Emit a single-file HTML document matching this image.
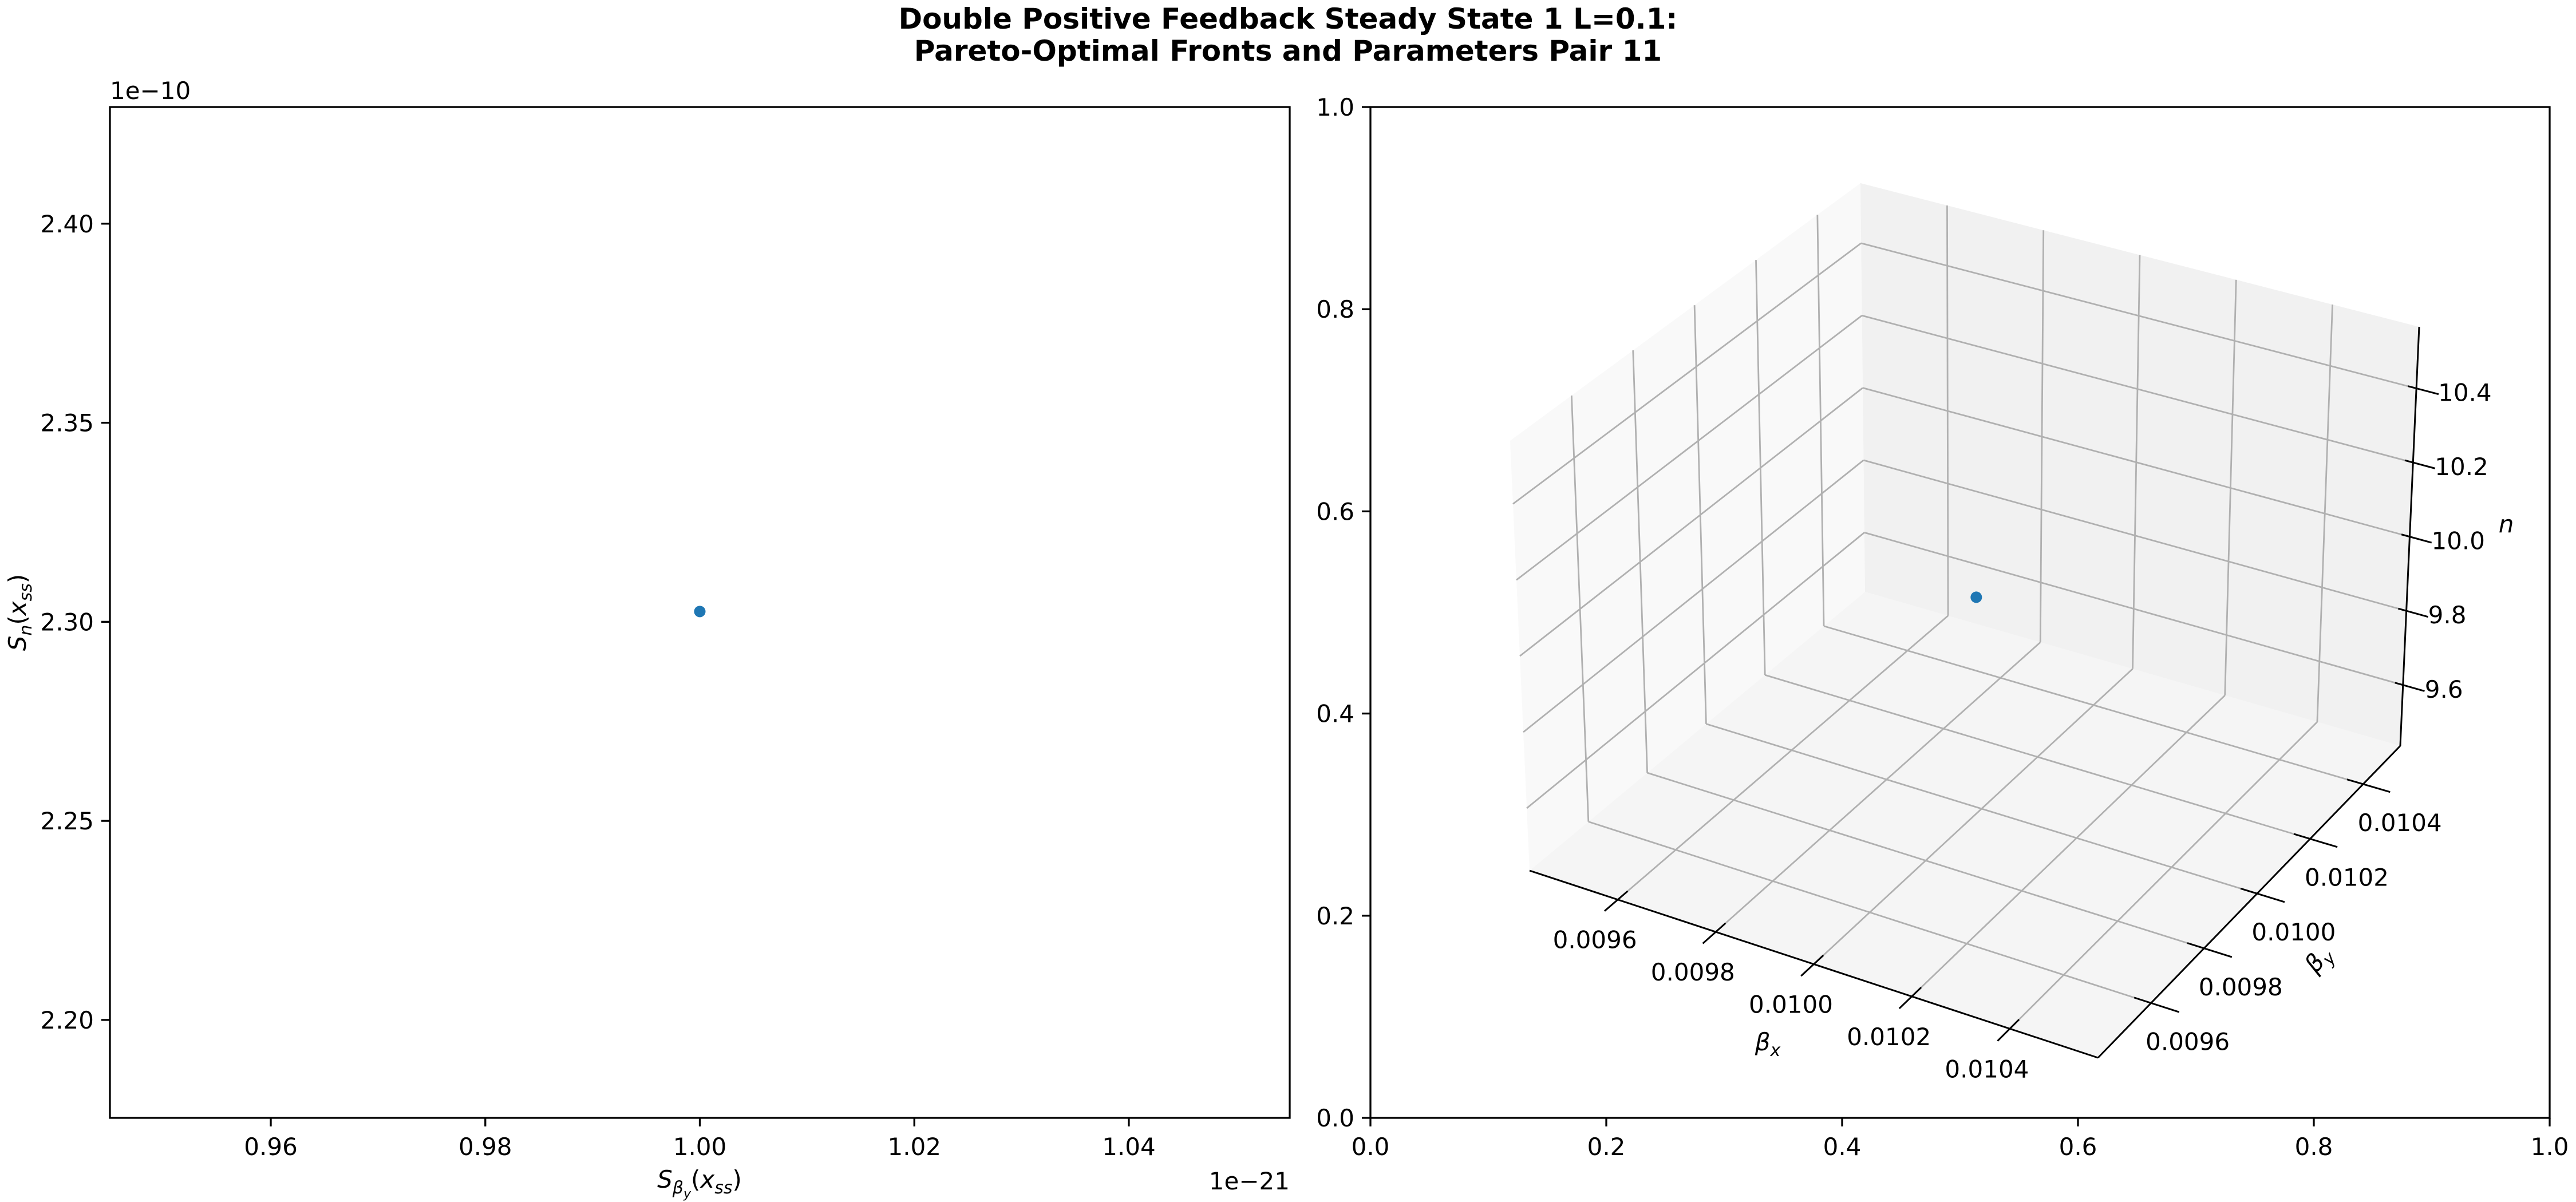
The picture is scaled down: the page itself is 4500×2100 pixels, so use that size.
<!DOCTYPE html>
<html><head><meta charset="utf-8"><style>
html,body{margin:0;padding:0;background:#fff}
svg{display:block;font-family:"DejaVu Sans","Liberation Sans",sans-serif}
</style></head><body>
<svg id="fig" width="4500" height="2100" viewBox="0 0 4500 2100" xmlns="http://www.w3.org/2000/svg">
<rect width="4500" height="2100" fill="#fff"/>
<text x="2250" y="50" font-size="50" font-weight="bold" text-anchor="middle">Double Positive Feedback Steady State 1 L=0.1:</text>
<text x="2250" y="106" font-size="50" font-weight="bold" text-anchor="middle">Pareto-Optimal Fronts and Parameters Pair 11</text>
<g id="left"></g>
<g id="right"></g>
</svg>
<script>
// ---- left chart data ----
const frontX = [1.0];          // S_beta_y (x1e-21)
const frontY = [2.302585];     // S_n (x1e-10)
const leftXTicks = [0.96, 0.98, 1.00, 1.02, 1.04];
const leftYTicks = [2.20, 2.25, 2.30, 2.35, 2.40];
const leftXLim = [0.945, 1.055];
const leftYLim = [2.1754, 2.4293];
// ---- right chart data ----
const paramBx = [0.01];
const paramBy = [0.01];
const paramN = [10.0];
const bxTicks = [0.0096, 0.0098, 0.0100, 0.0102, 0.0104];
const byTicks = [0.0096, 0.0098, 0.0100, 0.0102, 0.0104];
const nTicks = [9.6, 9.8, 10.0, 10.2, 10.4];
const bxLim = [0.00942, 0.01058];
const byLim = [0.00940, 0.01054];
const nLim = [9.436, 10.566];
const frameTicks = [0.0, 0.2, 0.4, 0.6, 0.8, 1.0];

const NS = "http://www.w3.org/2000/svg";
function mk(parent, tag, attrs, text) {
  const e = document.createElementNS(NS, tag);
  for (const k in attrs) e.setAttribute(k, attrs[k]);
  if (text !== undefined) e.textContent = text;
  parent.appendChild(e);
  return e;
}
const L = document.getElementById('left');
const R = document.getElementById('right');

// ===== left panel =====
const AX = {l: 192, r: 2253, t: 187, b: 1953};
const sx = v => AX.l + (v - leftXLim[0]) / (leftXLim[1] - leftXLim[0]) * (AX.r - AX.l);
const sy = v => AX.b - (v - leftYLim[0]) / (leftYLim[1] - leftYLim[0]) * (AX.b - AX.t);
let fr = mk(L, 'rect', {x: AX.l, y: AX.t, width: AX.r - AX.l, height: AX.b - AX.t, fill: 'none', stroke: '#000', 'stroke-width': 3.3});


leftXTicks.forEach(t => {
  const x = sx(t);
  let tk = mk(L, 'line', {x1: x, x2: x, y1: AX.b, y2: AX.b + 15, stroke: '#000', 'stroke-width': 3.3});
  
  
  let lb = mk(L, 'text', {x: x, y: AX.b + 65, 'font-size': 42, 'text-anchor': 'middle'}, t.toFixed(2));
  
  
});
leftYTicks.forEach(t => {
  const y = sy(t);
  let tk = mk(L, 'line', {x1: AX.l - 15, x2: AX.l, y1: y, y2: y, stroke: '#000', 'stroke-width': 3.3});
  
  
  let lb = mk(L, 'text', {x: AX.l - 28, y: y + 15, 'font-size': 42, 'text-anchor': 'end'}, t.toFixed(2));
  
  
});
let o1 = mk(L, 'text', {x: AX.l, y: AX.t - 14, 'font-size': 42}, '1e\u221210');


let o2 = mk(L, 'text', {x: AX.r, y: AX.b + 125, 'font-size': 42, 'text-anchor': 'end'}, '1e\u221221');


let xl = mk(L, 'text', {x: 1222, y: 2075, 'font-size': 42, 'text-anchor': 'middle'});


xl.innerHTML = '<tspan font-style="italic">S</tspan><tspan font-size="30" dy="10" font-style="italic">β</tspan><tspan font-size="22" dy="8" font-style="italic">y</tspan><tspan dy="-18">(</tspan><tspan font-style="italic">x</tspan><tspan font-size="30" dy="10" font-style="italic">ss</tspan><tspan dy="-10">)</tspan>';
let yl = mk(L, 'text', {x: 0, y: 0, 'font-size': 42, 'text-anchor': 'middle', transform: 'translate(45,1070) rotate(-90)'});


yl.innerHTML = '<tspan font-style="italic">S</tspan><tspan font-size="30" dy="10" font-style="italic">n</tspan><tspan dy="-10">(</tspan><tspan font-style="italic">x</tspan><tspan font-size="30" dy="10" font-style="italic">ss</tspan><tspan dy="-10">)</tspan>';
frontX.forEach((v, i) => {
  let c = mk(L, 'circle', {cx: sx(v), cy: sy(frontY[i]), r: 10, fill: '#1f77b4'});
  
  
});

// ===== right panel (2D frame) =====
const F2 = {l: 2394, r: 4454, t: 187, b: 1953};
let fr2 = mk(R, 'rect', {x: F2.l, y: F2.t, width: F2.r - F2.l, height: F2.b - F2.t, fill: 'none', stroke: '#000', 'stroke-width': 3.3});


frameTicks.forEach(t => {
  const x = F2.l + t * (F2.r - F2.l), y = F2.b - t * (F2.b - F2.t);
  let a = mk(R, 'line', {x1: x, x2: x, y1: F2.b, y2: F2.b + 15, stroke: '#000', 'stroke-width': 3.3});
  
  
  let b = mk(R, 'text', {x: x, y: F2.b + 65, 'font-size': 42, 'text-anchor': 'middle'}, t.toFixed(1));
  
  
  let c = mk(R, 'line', {x1: F2.l - 15, x2: F2.l, y1: y, y2: y, stroke: '#000', 'stroke-width': 3.3});
  
  
  let d = mk(R, 'text', {x: F2.l - 28, y: y + 15, 'font-size': 42, 'text-anchor': 'end'}, t.toFixed(1));
  
  
});

// ===== 3D projection via trilinear interpolation of box corners =====
const C = {
  b000: [2672, 1521], b100: [3665, 1848], b110: [4193, 1303], b010: [3258, 1034],
  t000: [2638, 770], t100: [3660, 1080], t110: [4226, 571], t010: [3250, 320]
};
function lerp(a, b, t) { return [a[0] + (b[0] - a[0]) * t, a[1] + (b[1] - a[1]) * t]; }
function P(u, v, w) {
  const bot = lerp(lerp(C.b000, C.b100, u), lerp(C.b010, C.b110, u), v);
  const top = lerp(lerp(C.t000, C.t100, u), lerp(C.t010, C.t110, u), v);
  return lerp(bot, top, w);
}
const nu = b => (b - bxLim[0]) / (bxLim[1] - bxLim[0]);
const nv = b => (b - byLim[0]) / (byLim[1] - byLim[0]);
const nw = n => (n - nLim[0]) / (nLim[1] - nLim[0]);
const poly = pts => pts.map(p => p[0].toFixed(1) + ',' + p[1].toFixed(1)).join(' ');
let pf = mk(R, 'polygon', {points: poly([P(0,0,0), P(1,0,0), P(1,1,0), P(0,1,0)]), fill: '#f5f5f5'});


let pl = mk(R, 'polygon', {points: poly([P(0,0,0), P(0,1,0), P(0,1,1), P(0,0,1)]), fill: '#f9f9f9'});


let pr = mk(R, 'polygon', {points: poly([P(0,1,0), P(1,1,0), P(1,1,1), P(0,1,1)]), fill: '#f1f1f1'});


function gl(a, b, name) {
  let e = mk(R, 'line', {x1: a[0], y1: a[1], x2: b[0], y2: b[1], stroke: '#b0b0b0', 'stroke-width': 2.8});
  
  
}
bxTicks.forEach(t => { const u = nu(t); gl(P(u,0,0), P(u,1,0), 'grid-bx-floor'); gl(P(u,1,0), P(u,1,1), 'grid-bx-wall'); });
byTicks.forEach(t => { const v = nv(t); gl(P(0,v,0), P(1,v,0), 'grid-by-floor'); gl(P(0,v,0), P(0,v,1), 'grid-by-wall'); });
nTicks.forEach(t => { const w = nw(t); gl(P(0,0,w), P(0,1,w), 'grid-n-left'); gl(P(0,1,w), P(1,1,w), 'grid-n-back'); });
function al(a, b, name) {
  let e = mk(R, 'line', {x1: a[0], y1: a[1], x2: b[0], y2: b[1], stroke: '#000', 'stroke-width': 3});
  
  
}
al(P(0,0,0), P(1,0,0), 'bx-axis-line');
al(P(1,0,0), P(1,1,0), 'by-axis-line');
al(P(1,1,0), P(1,1,1), 'n-axis-line');
bxTicks.forEach(t => {
  const u = nu(t);
  al(P(u,0.03,0), P(u,-0.04,0), 'bx-tick');
  const p = P(u,0,0);
  let lb = mk(R, 'text', {x: p[0] - 40, y: p[1] + 85, 'font-size': 42, 'text-anchor': 'middle'}, t.toFixed(4));
  
  
});
byTicks.forEach(t => {
  const v = nv(t);
  al(P(0.97,v,0), P(1.05,v,0), 'by-tick');
  const p = P(1,v,0);
  let lb = mk(R, 'text', {x: p[0] + 64, y: p[1] + 82, 'font-size': 42, 'text-anchor': 'middle'}, t.toFixed(4));
  
  
});
nTicks.forEach(t => {
  const w = nw(t);
  al(P(0.985,1,w), P(1.04,1,w), 'n-tick');
  const p = P(1,1,w);
  let lb = mk(R, 'text', {x: p[0] + 38, y: p[1] + 22, 'font-size': 42}, t.toFixed(1));
  
  
});
let bxl = mk(R, 'text', {x: 3088, y: 1835, 'font-size': 42, 'text-anchor': 'middle', 'font-style': 'italic'});


bxl.innerHTML = 'β<tspan font-size="30" dy="10">x</tspan>';
let byl = mk(R, 'text', {x: 0, y: 0, 'font-size': 42, 'text-anchor': 'middle', 'font-style': 'italic', transform: 'translate(4060,1685) rotate(-50)'});


byl.innerHTML = 'β<tspan font-size="30" dy="10">y</tspan>';
let nl = mk(R, 'text', {x: 4378, y: 930, 'font-size': 42, 'text-anchor': 'middle', 'font-style': 'italic'}, 'n');


paramBx.forEach((b, i) => {
  const p = P(nu(b), nv(paramBy[i]), nw(paramN[i]));
  let c = mk(R, 'circle', {cx: p[0] - 8, cy: p[1], r: 10, fill: '#1f77b4'});
  
  
});
</script>
</body></html>
